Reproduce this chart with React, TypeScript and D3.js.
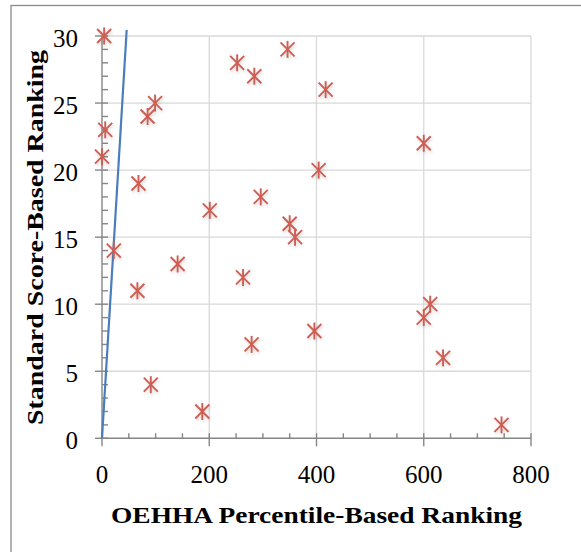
import React from "react";
import * as d3 from "d3";

const xValues = [4, 6, 0, 99, 85, 68, 22, 66, 141, 91, 201, 187, 252, 284, 346, 417, 263, 279, 296, 350, 360, 404, 396, 600, 612, 600, 636, 745];
const yValues = [30, 23, 21, 25, 24, 19, 14, 11, 13, 4, 17, 2, 28, 27, 29, 26, 12, 7, 18, 16, 15, 20, 8, 22, 10, 9, 6, 1];
const trendX = [0, 46];
const trendY = [0, 30.45];
const xTicks = [0, 200, 400, 600, 800];
const yTicks = [0, 5, 10, 15, 20, 25, 30];
const xTitle = "OEHHA Percentile-Based Ranking";
const yTitle = "Standard Score-Based Ranking";

const W = 581;
const H = 552;
const FONT = "'Liberation Serif', 'DejaVu Serif', serif";

export default function App() {
  const x = d3.scaleLinear().domain([0, 800]).range([102, 531]);
  const y = d3.scaleLinear().domain([0, 30]).range([438.3, 36]);
  const xMinor = d3.range(0, 801, 50).filter((v) => v % 200 !== 0);
  const yMinor = d3.range(0, 31, 1).filter((v) => v % 5 !== 0);
  const line = d3
    .line<number>()
    .x((_, i) => x(trendX[i]))
    .y((d) => y(d));
  const axisColor = "#868686";
  const gridColor = "#d9d9d9";
  const red = "#cf5d52";

  return (
    <svg
      width={W}
      height={H}
      style={{ position: "absolute", left: 0, top: 0, background: "#fff" }}
      fontFamily={FONT}
    >
      <defs>
        <filter id="shadow" x="-50%" y="-50%" width="200%" height="200%">
          <feDropShadow dx="1" dy="2" stdDeviation="1.8" floodColor="#000" floodOpacity="0.15" />
        </filter>
      </defs>
      <rect x={0} y={0} width={W} height={H} fill="#fff" />
      <rect x={11} y={5.5} width={W + 10} height={H + 10} fill="none" stroke="#8c8c8c" strokeWidth={1.3} />

      {/* gridlines */}
      {yTicks.filter((v) => v !== 0).map((v) => (
        <line key={"gy" + v} x1={x(0)} x2={x(800)} y1={y(v)} y2={y(v)} stroke={gridColor} strokeWidth={1.3} />
      ))}
      {xTicks.filter((v) => v !== 0).map((v) => (
        <line key={"gx" + v} x1={x(v)} x2={x(v)} y1={y(30)} y2={y(0)} stroke={gridColor} strokeWidth={1.3} />
      ))}

      {/* x axis */}
      <line x1={x(0)} x2={x(800)} y1={y(0)} y2={y(0)} stroke={axisColor} strokeWidth={1.4} />
      {xTicks.map((v) => (
        <line key={"xt" + v} x1={x(v)} x2={x(v)} y1={y(0) - 5} y2={y(0) + 8} stroke={axisColor} strokeWidth={1.4} />
      ))}
      {xMinor.map((v) => (
        <line key={"xm" + v} x1={x(v)} x2={x(v)} y1={y(0) - 5} y2={y(0)} stroke={axisColor} strokeWidth={1.4} />
      ))}
      {xTicks.map((v) => (
        <text key={"xl" + v} x={x(v)} y={483} textAnchor="middle" fontSize={25} fill="#000">
          {v}
        </text>
      ))}

      {/* y axis */}
      <line x1={x(0)} x2={x(0)} y1={y(30)} y2={y(0)} stroke={axisColor} strokeWidth={1.4} />
      {yTicks.map((v) => (
        <line key={"yt" + v} x1={x(0) - 7} x2={x(0) + 6} y1={y(v)} y2={y(v)} stroke={axisColor} strokeWidth={1.4} />
      ))}
      {yMinor.map((v) => (
        <line key={"ym" + v} x1={x(0)} x2={x(0) + 6} y1={y(v)} y2={y(v)} stroke={axisColor} strokeWidth={1.4} />
      ))}
      {yTicks.map((v) => (
        <text key={"yl" + v} x={78} y={y(v) + 11} textAnchor="end" fontSize={25} fill="#000">
          {v}
        </text>
      ))}

      {/* trend line */}
      <path d={line(trendY) || ""} fill="none" stroke="#4a7ebb" strokeWidth={2.2} />

      {/* markers */}
      <g filter="url(#shadow)">
        {xValues.map((xv, i) => {
          const cx = x(xv);
          const cy = y(yValues[i]);
          return (
            <g key={"p" + i} stroke={red} strokeWidth={1.9} strokeLinecap="butt">
              <line x1={cx - 7} y1={cy - 7} x2={cx + 7} y2={cy + 7} />
              <line x1={cx - 7} y1={cy + 7} x2={cx + 7} y2={cy - 7} />
              <line x1={cx} y1={cy - 8.5} x2={cx} y2={cy + 8.5} />
            </g>
          );
        })}
      </g>

      {/* titles */}
      <text x={111} y={523} fontSize={23} fontWeight="bold" fill="#000" textLength={411} lengthAdjust="spacingAndGlyphs">
        {xTitle}
      </text>
      <text
        transform={`translate(43,425) rotate(-90)`}
        x={0}
        y={0}
        fontSize={23}
        fontWeight="bold"
        fill="#000"
        textLength={375}
        lengthAdjust="spacingAndGlyphs"
      >
        {yTitle}
      </text>
    </svg>
  );
}
